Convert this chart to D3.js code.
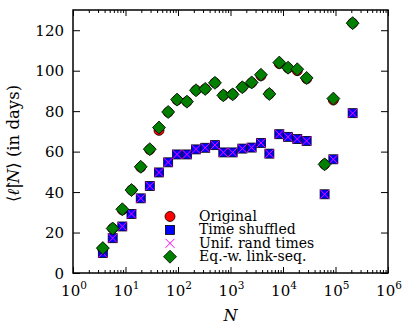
<!DOCTYPE html>
<html>
<head>
<meta charset="utf-8">
<script src="https://cdn.jsdelivr.net/npm/d3@7"></script>
<style>
  body { margin: 0; background: #fff; }
  text { font-family: "DejaVu Serif", "Liberation Serif", serif; }
</style>
</head>
<body>
<svg id="chart"></svg>
<script>
// chart data
const sizes = [3.7, 5.7, 8.7, 13, 19.5, 29, 43.5, 65, 96, 148, 220, 330, 505, 730, 1100, 1680, 2530, 3800, 5500, 8500, 12500, 18700, 28200, 62000, 91000, 212000];
const original = [12.0, 22, 31.2, 41, 52.3, 61, 70.5, 79.5, 85.5, 84.7, 90.3, 91, 94, 87.8, 88.3, 91.8, 94, 97.5, 88.5, 103.5, 101.3, 100, 96, 53.7, 85.5, 123.5];
const timeShuffled = [9.85, 17.2, 23, 29.2, 36.9, 43, 49.7, 54.7, 58.6, 58.6, 61.1, 61.9, 63.2, 59.6, 59.6, 61.5, 62, 64.3, 59, 68.6, 67.3, 66.2, 65.3, 38.9, 56.2, 79];
const unifRand = [9.85, 17.2, 23, 29.2, 36.9, 43, 49.7, 54.7, 58.6, 58.6, 61.1, 61.9, 63.2, 59.6, 59.6, 61.5, 62, 64.3, 59, 68.6, 67.3, 66.2, 65.3, 38.9, 56.2, 79];
const eqWeighted = [12.3, 22, 31.5, 41, 52.5, 61.2, 71.9, 79.6, 85.7, 84.7, 90.3, 91, 94, 87.8, 88.3, 91.8, 94.2, 98, 88.5, 104, 101.5, 100.7, 96.4, 53.7, 86.2, 123.5];
const legendLabels = ["Original", "Time shuffled", "Unif. rand times", "Eq.-w. link-seq."];
const xTicks = [1, 10, 100, 1000, 10000, 100000, 1000000];
const yTicks = [0, 20, 40, 60, 80, 100, 120];

const width = 408, height = 326;
const margin = { left: 73, right: 20, top: 10, bottom: 53 };

const svg = d3.select("#chart").attr("width", width).attr("height", height);

const x = d3.scaleLog().domain([1, 1e6]).range([margin.left, width - margin.right]);
const y = d3.scaleLinear().domain([0, 130]).range([height - margin.bottom, margin.top]);

const x0 = margin.left, x1 = width - margin.right;
const y0 = height - margin.bottom, y1 = margin.top;

// minor ticks for the log axis
const minorTicks = [];
for (let d = 1; d < 1e6; d *= 10) {
    for (let k = 2; k <= 9; k++) minorTicks.push(d * k);
}

// axes (ticks inward on all four sides)
const axes = svg.append("g").attr("class", "axes");
axes.append("g").attr("transform", `translate(0,${y0})`)
    .call(d3.axisBottom(x).tickValues(xTicks).tickSizeInner(-6).tickSizeOuter(0).tickFormat(() => ""));
axes.append("g").attr("transform", `translate(0,${y0})`)
    .call(d3.axisBottom(x).tickValues(minorTicks).tickSizeInner(-3).tickSizeOuter(0).tickFormat(() => ""));
axes.append("g").attr("transform", `translate(0,${y1})`)
    .call(d3.axisTop(x).tickValues(xTicks).tickSizeInner(-6).tickSizeOuter(0).tickFormat(() => ""));
axes.append("g").attr("transform", `translate(0,${y1})`)
    .call(d3.axisTop(x).tickValues(minorTicks).tickSizeInner(-3).tickSizeOuter(0).tickFormat(() => ""));
axes.append("g").attr("transform", `translate(${x0},0)`)
    .call(d3.axisLeft(y).tickValues(yTicks).tickSizeInner(-7).tickSizeOuter(0).tickFormat(() => ""));
axes.append("g").attr("transform", `translate(${x1},0)`)
    .call(d3.axisRight(y).tickValues(yTicks).tickSizeInner(-7).tickSizeOuter(0).tickFormat(() => ""));
axes.selectAll(".domain").remove();
axes.selectAll("line").attr("stroke", "#000").attr("stroke-width", 1);
axes.selectAll("text").remove();

// tick labels
svg.append("g").selectAll("text").data(xTicks).enter().append("text")
    .attr("x", d => x(d) + 1)
    .attr("y", y0 + 23)
    .attr("text-anchor", "middle")
    .attr("font-size", 15)
    .each(function (d) {
        const t = d3.select(this);
        t.append("tspan").text("10");
        t.append("tspan").attr("dy", -7).attr("font-size", 10.5).text(Math.round(Math.log10(d)));
    });

svg.append("g").selectAll("text").data(yTicks).enter().append("text")
    .attr("x", x0 - 9)
    .attr("y", d => y(d) + 5.5)
    .attr("text-anchor", "end")
    .attr("font-size", 15)
    .text(d => d);

// axis titles
svg.append("text")
    .attr("x", (x0 + x1) / 2)
    .attr("y", 321)
    .attr("text-anchor", "middle")
    .attr("font-size", 16)
    .attr("font-style", "italic")
    .text("N");

const ylab = svg.append("text")
    .attr("transform", `translate(19,${(y0 + y1) / 2 + 2}) rotate(-90)`)
    .attr("text-anchor", "middle")
    .attr("font-size", 16.5);
ylab.append("tspan").text("\u27E8");
ylab.append("tspan").attr("font-style", "italic").text("\u2113\u0302");
ylab.append("tspan").text("|");
ylab.append("tspan").attr("font-style", "italic").text("N");
ylab.append("tspan").text("\u27E9 (in days)");

// markers
const diamond = s => `M0,${-s}L${s},0L0,${s}L${-s},0Z`;
const cross = s => `M${-s},${-s}L${s},${s}M${-s},${s}L${s},${-s}`;

const marks = svg.append("g");

marks.selectAll(".orig").data(sizes).enter().append("circle")
    .attr("class", "orig")
    .attr("cx", d => x(d))
    .attr("cy", (d, i) => y(original[i]))
    .attr("r", 5)
    .attr("fill", "#ff0000").attr("stroke", "#000").attr("stroke-width", 0.8);

marks.selectAll(".shuf").data(sizes).enter().append("rect")
    .attr("class", "shuf")
    .attr("x", d => x(d) - 4.5)
    .attr("y", (d, i) => y(timeShuffled[i]) - 4.5)
    .attr("width", 9).attr("height", 9)
    .attr("fill", "#0000ff").attr("stroke", "#000").attr("stroke-width", 0.8);

marks.selectAll(".unif").data(sizes).enter().append("path")
    .attr("class", "unif")
    .attr("transform", (d, i) => `translate(${x(d)},${y(unifRand[i])})`)
    .attr("d", cross(4.5))
    .attr("fill", "none").attr("stroke", "#ff00ff").attr("stroke-width", 1);

marks.selectAll(".eqw").data(sizes).enter().append("path")
    .attr("class", "eqw")
    .attr("transform", (d, i) => `translate(${x(d)},${y(eqWeighted[i])})`)
    .attr("d", diamond(6.5))
    .attr("fill", "#007f00").attr("stroke", "#000").attr("stroke-width", 0.8);

// frame
svg.append("rect")
    .attr("x", x0).attr("y", y1)
    .attr("width", x1 - x0).attr("height", y0 - y1)
    .attr("fill", "none").attr("stroke", "#000").attr("stroke-width", 1.5);

// legend
const legend = svg.append("g");
const rowY = i => 216.5 + i * 13.4;
legend.append("circle").attr("cx", 170).attr("cy", rowY(0)).attr("r", 5)
    .attr("fill", "#ff0000").attr("stroke", "#000").attr("stroke-width", 0.8);
legend.append("rect").attr("x", 165.5).attr("y", rowY(1) - 4.5).attr("width", 9).attr("height", 9)
    .attr("fill", "#0000ff").attr("stroke", "#000").attr("stroke-width", 0.8);
legend.append("path").attr("transform", `translate(170,${rowY(2)})`).attr("d", cross(4.5))
    .attr("fill", "none").attr("stroke", "#ff00ff").attr("stroke-width", 1);
legend.append("path").attr("transform", `translate(170,${rowY(3)})`).attr("d", diamond(6.5))
    .attr("fill", "#007f00").attr("stroke", "#000").attr("stroke-width", 0.8);
legend.selectAll("text").data(legendLabels).enter().append("text")
    .attr("x", 199)
    .attr("y", (d, i) => rowY(i) + 4.5)
    .attr("font-size", 14)
    .text(d => d);
</script>
</body>
</html>
